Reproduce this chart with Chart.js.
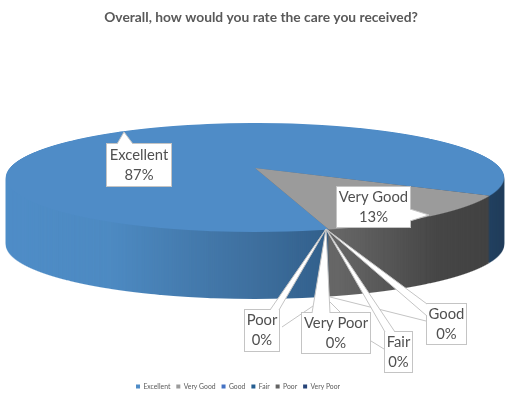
<!DOCTYPE html>
<html>
<head>
<meta charset="utf-8">
<style>
    html, body { margin: 0; padding: 0; background: #fff; }
    canvas { display: block; }
</style>
<script src="https://cdn.jsdelivr.net/npm/chart.js@4/dist/chart.umd.min.js"></script>
</head>
<body>
<canvas id="ratingChart" width="506" height="394"></canvas>
<script>
const categories = ["Excellent", "Very Good", "Good", "Fair", "Poor", "Very Poor"];
const ratingValues = [87, 13, 0, 0, 0, 0];
const chartTitle = "Overall, how would you rate the care you received?";

const topColors = ["#4f8cc7", "#9b9b9b", "#4472c4", "#255e91", "#636363", "#264478"];

// look of the tilted pie on screen
const pieCenterX = 255;
const pieCenterY = 168;
const pieTopY = 123;
const pieBottomY = 232;
const pieDepth = 67;
const pieRadius = 245.3;
const perspective = (pieBottomY + pieTopY - 2 * pieCenterY) / (pieBottomY - pieTopY);
const squash = (pieCenterY - pieTopY) * (1 + perspective) / pieRadius;

// callout boxes, same order as categories. base = where the pointer leaves the box, tip = where it ends
const calloutBoxes = [
    { x: 106, y: 143, w: 66, h: 44, base: [[117, 144], [133, 144]], tip: [124, 132] },
    { x: 336, y: 186, w: 75, h: 42, base: [[410, 209], [410, 221]], tip: [429, 215] },
    { x: 426, y: 303, w: 41, h: 42, base: [[427, 304], [427, 316]], tip: [326, 229] },
    { x: 384, y: 331, w: 29, h: 42, base: [[385, 332], [395, 332]], tip: [326, 229] },
    { x: 244, y: 309, w: 36, h: 43, base: [[270, 310], [279, 310]], tip: [326, 229] },
    { x: 301, y: 312, w: 70, h: 42, base: [[312, 313], [330, 313]], tip: [326, 229] }
];
// bits of leader line that show from behind the boxes
const leaderLines = [
    [[330, 297], [426, 321]],
    [[330, 302], [340, 312]],
    [[313, 306], [282, 327]],
    [[371, 341], [384, 349]]
];

function sideFill(ctx, arc, index) {
    const left = arc.x - pieRadius;
    const right = arc.x + pieRadius;
    const grad = ctx.createLinearGradient(left, 0, right, 0);
    if (index === 0) {
        grad.addColorStop(0, "#4f8dc8");
        grad.addColorStop(0.25, "#4d8ac2");
        grad.addColorStop(0.5, "#3e6f9e");
        grad.addColorStop(0.65, "#2f5c87");
        grad.addColorStop(0.97, "#203d5b");
        grad.addColorStop(1, "#203d5b");
    } else {
        grad.addColorStop(0.64, "#666666");
        grad.addColorStop(0.82, "#464646");
        grad.addColorStop(1, "#3f3f3f");
    }
    return grad;
}

// draws the arcs one pixel row at a time so the circle gets a real perspective
function drawTilted(ctx, arcs) {
    const cx = pieCenterX;
    const cy = pieCenterY;
    for (let row = pieTopY - 1; row <= pieBottomY + 1; row++) {
        const y = row + 0.5 - cy;
        const v = y / (squash + perspective * y / pieRadius);
        const s = 1 / (1 - perspective * v / pieRadius);
        const m = squash * s * s;
        arcs.forEach(arc => {
            ctx.save();
            ctx.beginPath();
            ctx.rect(0, row, ctx.canvas.width, 1);
            ctx.clip();
            ctx.setTransform(s, 0, 0, m, cx - s * arc.x, row + 0.5 - m * (arc.y + v));
            arc.draw(ctx);
            ctx.restore();
        });
    }
}

function drawCallout(ctx, box, label, value) {
    ctx.fillStyle = "#ffffff";
    ctx.strokeStyle = "#c4c4c4";
    ctx.lineWidth = 1;
    ctx.fillRect(box.x, box.y, box.w, box.h);
    ctx.strokeRect(box.x + 0.5, box.y + 0.5, box.w - 1, box.h - 1);

    ctx.beginPath();
    ctx.moveTo(box.base[0][0], box.base[0][1]);
    ctx.lineTo(box.tip[0], box.tip[1]);
    ctx.lineTo(box.base[1][0], box.base[1][1]);
    ctx.closePath();
    ctx.fill();
    ctx.beginPath();
    ctx.moveTo(box.base[0][0], box.base[0][1]);
    ctx.lineTo(box.tip[0], box.tip[1]);
    ctx.lineTo(box.base[1][0], box.base[1][1]);
    ctx.stroke();

    ctx.fillStyle = "#505050";
    ctx.font = "14.8px Lato";
    ctx.textAlign = "center";
    ctx.textBaseline = "middle";
    const mid = box.x + box.w / 2;
    ctx.fillText(label, mid, box.y + box.h / 2 - 10);
    ctx.fillText(value + "%", mid, box.y + box.h / 2 + 10);
}

const tiltedPie = {
    id: "tiltedPie",
    afterLayout(chart) {
        // the title and legend are not centred on the page in the original
        chart.titleBlock.left += 8;
        chart.titleBlock.right += 8;
        chart.legend.left -= 15;
        chart.legend.right -= 15;
        chart.legend.top += 6;
        chart.legend.bottom += 6;
    },
    beforeDatasetsDraw(chart) {
        const ctx = chart.ctx;
        const arcs = chart.getDatasetMeta(0).data;

        // side wall: same arcs in shaded colours, stacked downwards
        const sideCanvas = document.createElement("canvas");
        sideCanvas.width = chart.width;
        sideCanvas.height = chart.height;
        const sideCtx = sideCanvas.getContext("2d");
        const sideArcs = arcs.map((arc, i) => {
            const view = Object.create(arc);
            view.options = { ...arc.options, backgroundColor: sideFill(sideCtx, arc, i) };
            return view;
        });
        drawTilted(sideCtx, sideArcs);
        for (let d = pieDepth; d >= 1; d--) {
            ctx.drawImage(sideCanvas, 0, d);
        }

        drawTilted(ctx, arcs);

        ctx.save();
        ctx.strokeStyle = "#c4c4c4";
        ctx.lineWidth = 1;
        leaderLines.forEach(line => {
            ctx.beginPath();
            ctx.moveTo(line[0][0], line[0][1]);
            ctx.lineTo(line[1][0], line[1][1]);
            ctx.stroke();
        });
        calloutBoxes.forEach((box, i) => drawCallout(ctx, box, categories[i], ratingValues[i]));
        ctx.restore();
        return false;
    }
};

new Chart(document.getElementById("ratingChart"), {
    type: "pie",
    data: {
        labels: categories,
        datasets: [{
            data: ratingValues,
            backgroundColor: topColors,
            borderWidth: 0
        }]
    },
    options: {
        responsive: false,
        animation: false,
        events: [],
        rotation: 165.5,
        radius: pieRadius,
        plugins: {
            title: {
                display: true,
                text: chartTitle,
                color: "#595959",
                font: { family: "Lato", size: 13.8, weight: "bold" },
                padding: { top: 9, bottom: 10 }
            },
            legend: {
                position: "bottom",
                labels: {
                    boxWidth: 4,
                    boxHeight: 4,
                    padding: 6,
                    color: "#595959",
                    font: { family: "Lato", size: 6.8 }
                }
            },
            tooltip: { enabled: false }
        }
    },
    plugins: [tiltedPie]
});
</script>
</body>
</html>
